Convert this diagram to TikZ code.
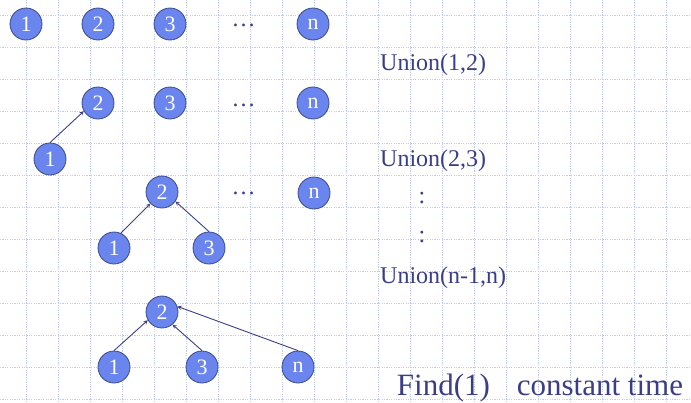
\documentclass[tikz,border=0pt]{standalone}
\usepackage{fontspec}
\setmainfont{Liberation Serif}
\definecolor{gridblue}{RGB}{190,205,245}
\definecolor{setfill}{RGB}{106,134,238}
\definecolor{setedge}{RGB}{60,72,140}
\definecolor{ink}{RGB}{58,62,135}

\begin{document}
\begin{tikzpicture}[x=1pt, y=-1pt,
  elem/.style={circle, draw=setedge, line width=0.8pt, fill=setfill, text=white,
    minimum size=32pt, inner sep=0pt, font=\fontsize{22}{22}\selectfont},
  link/.style={draw=ink, line width=0.9pt, -stealth},
  note/.style={anchor=base west, inner sep=0pt, text=ink, font=\fontsize{24}{24}\selectfont},
  more/.style={anchor=base, inner sep=0pt, text=ink, font=\fontsize{24}{24}\selectfont}]
\useasboundingbox (0,0) rectangle (691,402);
% dotted grid
\foreach \gx in {0,...,20}
  \draw[gridblue, line width=1pt, dash pattern=on 1.2pt off 1.2pt] (26.7+32*\gx, 0) -- (26.7+32*\gx, 402);
\foreach \gy in {0,...,12}
  \draw[gridblue, line width=1pt, dash pattern=on 1.2pt off 1.2pt] (0, 15+32*\gy) -- (691, 15+32*\gy);

% singletons
\node[elem] (a1) at (26,24) {1};
\node[elem] (a2) at (98,24) {2};
\node[elem] (a3) at (170,24) {3};
\node[more] (adots) at (243.5,26.5) {…};
\node[elem] (an) at (313,24) {n};

% after Union(1,2)
\node[elem] (b1) at (50,159) {1};
\node[elem] (b2) at (98,103) {2};
\node[elem] (b3) at (170,103) {3};
\node[more] (bdots) at (243.5,106.5) {…};
\node[elem] (bn) at (313,103) {n};
\draw[link] (b1.north) -- (b2.210);

% after Union(2,3)
\node[elem] (c2) at (162,192) {2};
\node[elem] (c1) at (114,248) {1};
\node[elem] (c3) at (209,248) {3};
\node[more] (cdots) at (243.5,194.5) {…};
\node[elem] (cn) at (314,193) {n};
\draw[link] (c1.65) -- (c2.225);
\draw[link] (c3.north) -- (c2.-35);

% after Union(n-1,n)
\node[elem] (d2) at (162,312) {2};
\node[elem] (d1) at (114,367) {1};
\node[elem] (d3) at (202,367) {3};
\node[elem] (dn) at (298,367) {n};
\draw[link] (d1.north) -- (d2.210);
\draw[link] (d3.north) -- (d2.-50);
\draw[link] (dn.north) -- (d2.20);

% operations
\node[note] (u12) at (380,70) {Union(1,2)};
\node[note] (u23) at (380,166) {Union(2,3)};
\node[more] (skip1) at (422,203.5) {:};
\node[more] (skip2) at (422,242.5) {:};
\node[note] (unn) at (380,283.3) {Union(n-1,n)};
\node[note, font=\fontsize{31}{31}\selectfont] (find) at (396.7,395.7) {Find(1)\hspace{27pt}constant time};
\end{tikzpicture}
\end{document}
